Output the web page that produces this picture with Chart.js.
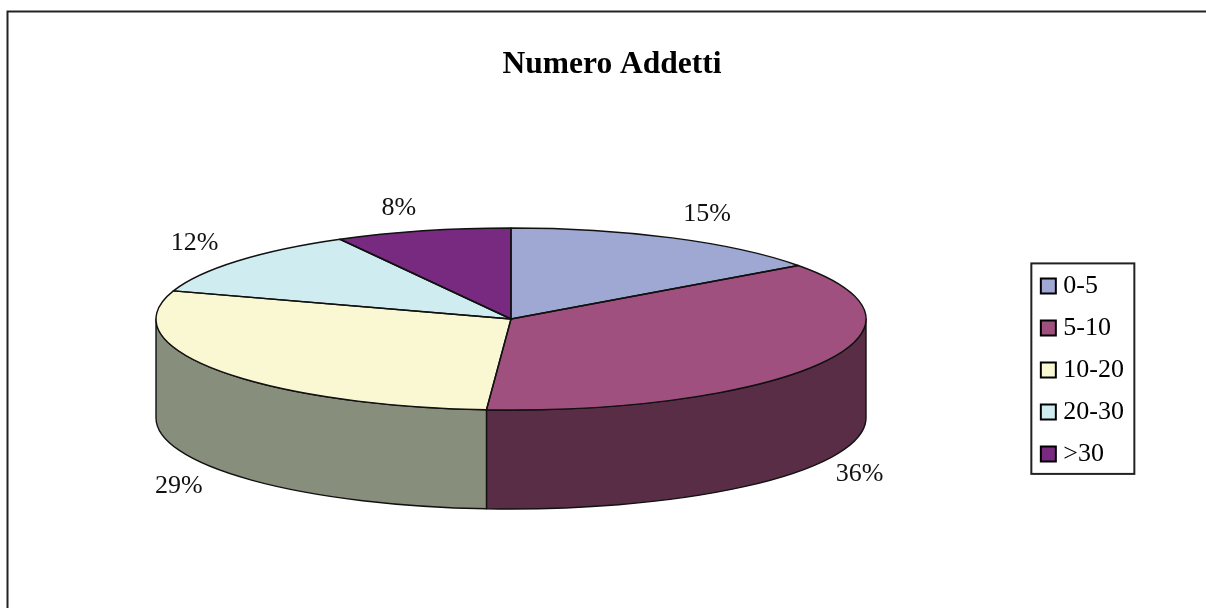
<!DOCTYPE html>
<html>
<head>
<meta charset="utf-8">
<style>
html,body{margin:0;padding:0;background:#fff;overflow:hidden}
canvas{display:block}
</style>
<script src="https://cdn.jsdelivr.net/npm/chart.js@4"></script>
</head>
<body>
<canvas id="c" width="1206" height="608"></canvas>
<script>
const chartTitle = 'Numero Addetti';
const categories = ['0-5', '5-10', '10-20', '20-30', '>30'];
const shares = [15, 36.1, 28.9, 12, 8];
const topColors = ['#9FA7D3', '#A0507F', '#FAF8D2', '#CFEDF1', '#772A7F'];
const wallColors = ['#50546A', '#5A2D47', '#878E7C', '#687779', '#3C1540'];

const SERIF = '"Liberation Serif", "Times New Roman", serif';
const PIE_CENTER = {x: 511, y: 319};
const RX = 355, TILT = 91 / 355, DEPTH = 99;
const LINE = '#111';
// label nudges from the rim midpoint of each slice
const labelNudge = [[35, -24], [38, 12], [-38, 17], [-43, -18], [-24, -23]];

function arcsOf(chart) { return chart.getDatasetMeta(0).data; }

const pie3d = {
  id: 'pie3d',
  beforeDraw(chart) {
    const ctx = chart.ctx;
    ctx.save();
    ctx.strokeStyle = '#222';
    ctx.lineWidth = 2;
    ctx.beginPath();
    ctx.moveTo(7.5, 608);
    ctx.lineTo(7.5, 11.5);
    ctx.lineTo(1206, 11.5);
    ctx.stroke();
    ctx.restore();
  },
  beforeDatasetDraw(chart) {
    const ctx = chart.ctx;
    const arcs = arcsOf(chart);
    const cx = PIE_CENTER.x, cy = PIE_CENTER.y;
    const ry = RX * TILT;
    ctx.save();
    ctx.lineWidth = 1.4;
    ctx.strokeStyle = LINE;
    ctx.lineJoin = 'round';
    arcs.forEach((arc, i) => {
      const a = Math.max(arc.startAngle, 0), b = Math.min(arc.endAngle, Math.PI);
      if (b <= a) return;
      ctx.beginPath();
      ctx.ellipse(cx, cy, RX, ry, 0, a, b);
      ctx.lineTo(cx + RX * Math.cos(b), cy + ry * Math.sin(b) + DEPTH);
      ctx.ellipse(cx, cy + DEPTH, RX, ry, 0, b, a, true);
      ctx.closePath();
      ctx.fillStyle = wallColors[i];
      ctx.fill();
      ctx.stroke();
    });
    ctx.restore();
    const p = arcs[0];
    ctx.save();
    ctx.translate(cx, cy);
    ctx.scale(1, TILT);
    ctx.translate(-p.x, -p.y);
  },
  afterDatasetDraw(chart) {
    const ctx = chart.ctx;
    ctx.restore();
    const cx = PIE_CENTER.x, cy = PIE_CENTER.y;
    const ry = RX * TILT;
    ctx.save();
    ctx.lineWidth = 1.4;
    ctx.strokeStyle = LINE;
    ctx.lineJoin = 'round';
    arcsOf(chart).forEach(arc => {
      ctx.beginPath();
      ctx.moveTo(cx, cy);
      ctx.ellipse(cx, cy, RX, ry, 0, arc.startAngle, arc.endAngle);
      ctx.closePath();
      ctx.stroke();
    });
    ctx.restore();
  },
  afterDraw(chart) {
    const ctx = chart.ctx;
    const cx = PIE_CENTER.x, cy = PIE_CENTER.y;
    const ry = RX * TILT;
    const total = shares.reduce((s, v) => s + v, 0);
    ctx.save();
    ctx.fillStyle = '#111';
    ctx.font = '26px ' + SERIF;
    ctx.textAlign = 'center';
    ctx.textBaseline = 'middle';
    arcsOf(chart).forEach((arc, i) => {
      const m = (arc.startAngle + arc.endAngle) / 2;
      const onWall = Math.sin(m) > 0 ? DEPTH : 0;
      const x = cx + RX * Math.cos(m) + labelNudge[i][0];
      const y = cy + ry * Math.sin(m) + onWall + labelNudge[i][1];
      ctx.fillText(Math.round(shares[i] / total * 100) + '%', x, y);
    });
    const hb = chart.legend.legendHitBoxes;
    const first = hb[0], last = hb[hb.length - 1];
    ctx.strokeStyle = '#222';
    ctx.lineWidth = 2;
    const top = first.top + first.height / 2 - 22.5;
    const bottom = last.top + last.height / 2 + 20;
    ctx.strokeRect(chart.legend.left + 1, top, 103, bottom - top);
    ctx.restore();
  }
};

new Chart(document.getElementById('c'), {
  type: 'pie',
  data: {
    labels: categories,
    datasets: [{
      data: shares,
      backgroundColor: topColors,
      borderWidth: 0,
      radius: RX,
      clip: false
    }]
  },
  options: {
    responsive: false,
    animation: false,
    layout: {padding: {left: 90, right: 72, top: 0, bottom: 0}},
    plugins: {
      tooltip: {enabled: false},
      title: {
        display: true,
        text: chartTitle,
        color: '#000',
        font: {family: SERIF, size: 31.5, weight: 'bold'},
        padding: {top: 46, bottom: 48}
      },
      legend: {
        position: 'right',
        fullSize: false,
        labels: {
          color: '#111',
          font: {family: SERIF, size: 26},
          usePointStyle: true,
          pointStyle: 'rect',
          boxWidth: 4,
          boxHeight: 15,
          padding: 16,
          generateLabels(chart) {
            return categories.map((t, i) => ({
              text: t,
              fillStyle: topColors[i],
              strokeStyle: '#000',
              lineWidth: 2,
              pointStyle: 'rect',
              hidden: false,
              index: i
            }));
          }
        }
      }
    }
  },
  plugins: [pie3d]
});
</script>
</body>
</html>
